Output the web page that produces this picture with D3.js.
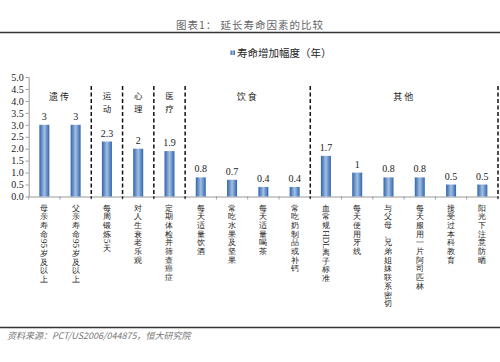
<!DOCTYPE html>
<html>
<head>
<meta charset="utf-8">
<script src="https://cdn.jsdelivr.net/npm/d3@7"></script>
<style>
  body { margin: 0; background: #fff; }
  svg { display: block; font-family: "Noto Sans CJK SC", sans-serif; }
</style>
</head>
<body>
<div id="chart"></div>
<script>
// data
var categories = [
  "母亲寿命95岁及以上", "父亲寿命95岁及以上", "每周锻炼5天", "对人生衰老乐观",
  "定期体检并筛查癌症", "每天适量饮酒", "常吃水果及坚果", "每天适量喝茶",
  "常吃奶制品或补钙", "血常规HDL离子标准", "每天使用牙线", "与父母、兄弟姐妹联系密切",
  "每天服用一片阿司匹林", "接受过本科教育", "阳光下注意防晒"
];
var values = [3, 3, 2.3, 2, 1.9, 0.8, 0.7, 0.4, 0.4, 1.7, 1, 0.8, 0.8, 0.5, 0.5];
var valueLabels = ["3", "3", "2.3", "2", "1.9", "0.8", "0.7", "0.4", "0.4", "1.7", "1", "0.8", "0.8", "0.5", "0.5"];
var groupNames = ["遗传", "运动", "心理", "医疗", "饮食", "其他"];
var groupFirst = [0, 2, 3, 4, 5, 9];
var groupLast = [1, 2, 3, 4, 8, 14];
var yTicks = [0, 0.5, 1, 1.5, 2, 2.5, 3, 3.5, 4, 4.5, 5];
var seriesName = "寿命增加幅度（年）";

var W = 500, H = 362;
var svg = d3.select("#chart").append("svg").attr("width", W).attr("height", H);

// bar gradient (light middle, darker edges)
var grad = svg.append("defs").append("linearGradient").attr("id", "barGrad")
  .attr("x1", "0%").attr("x2", "100%").attr("y1", "0%").attr("y2", "0%");
grad.append("stop").attr("offset", "0%").attr("stop-color", "#2f64ad");
grad.append("stop").attr("offset", "50%").attr("stop-color", "#a4bfe2");
grad.append("stop").attr("offset", "100%").attr("stop-color", "#2f64ad");

// title + rule
svg.append("text").attr("x", 250).attr("y", 29).attr("text-anchor", "middle")
  .attr("font-size", "10.5px").attr("fill", "#666").attr("letter-spacing", "1px")
  .text("图表1：  延长寿命因素的比较");
svg.append("line").attr("x1", 0).attr("x2", W).attr("y1", 32.5).attr("y2", 32.5)
  .attr("stroke", "#333").attr("stroke-width", 1.6);

// legend
svg.append("rect").attr("x", 230.5).attr("y", 50.5).attr("width", 4.5).attr("height", 4.5)
  .attr("fill", "url(#barGrad)");
svg.append("text").attr("x", 237).attr("y", 56.5).attr("font-size", "10.5px")
  .attr("fill", "#222").text(seriesName);

// scales
var x = d3.scaleBand().domain(d3.range(categories.length)).range([28.7, 498]).padding(0);
var y = d3.scaleLinear().domain([0, 5]).range([196.5, 77]);
var barW = 10;

// y axis
var yAxis = svg.append("g").attr("transform", "translate(28.7,0)")
  .call(d3.axisLeft(y).tickValues(yTicks).tickFormat(d3.format(".1f")).tickSize(3).tickSizeOuter(0));
yAxis.select(".domain").attr("stroke", "#999");
yAxis.selectAll(".tick line").attr("stroke", "#999");
yAxis.selectAll("text").attr("font-family", "'Liberation Serif', serif")
  .attr("font-size", "10px").attr("fill", "#222").attr("x", -5);

// x axis; labels are stacked top to bottom, one character at a time
var xAxis = svg.append("g").attr("transform", "translate(0," + y(0) + ")")
  .call(d3.axisBottom(x).tickFormat("").tickSize(0).tickSizeOuter(0));
xAxis.select(".domain").attr("stroke", "#999");
var pitch = 8.7;
xAxis.selectAll(".tick").each(function (i) {
  var g = d3.select(this);
  var tokens = categories[i].match(/[A-Za-z0-9]+|./g);
  var pos = 11;
  tokens.forEach(function (tk) {
    if (/^[A-Za-z0-9]+$/.test(tk)) {
      // latin / digit runs lie on their side
      var len = tk.length * (/[A-Z]/.test(tk) ? 5.6 : 4.6);
      g.append("text")
        .attr("transform", "translate(0," + (pos - pitch / 2 + 1) + ") rotate(90)")
        .attr("dominant-baseline", "central").attr("text-anchor", "start")
        .attr("font-family", "'Liberation Serif', serif")
        .attr("font-size", "9px").attr("fill", "#222").text(tk);
      pos += len + 1.5;
    } else {
      g.append("text").attr("x", 0).attr("y", pos)
        .attr("text-anchor", "middle").attr("dominant-baseline", "central")
        .attr("font-size", "8.3px").attr("fill", "#222").text(tk);
      pos += pitch;
    }
  });
});

// boundary ticks between categories
svg.append("g").selectAll("line")
  .data(d3.range(categories.length + 1))
  .join("line")
  .attr("x1", function (i) { return 28.7 + i * x.step(); })
  .attr("x2", function (i) { return 28.7 + i * x.step(); })
  .attr("y1", y(0)).attr("y2", y(0) + 3)
  .attr("stroke", "#999");

// bars
svg.append("g").selectAll("rect")
  .data(values)
  .join("rect")
  .attr("x", function (d, i) { return x(i) + x.bandwidth() / 2 - barW / 2; })
  .attr("y", function (d) { return y(d); })
  .attr("width", barW)
  .attr("height", function (d) { return y(0) - y(d); })
  .attr("fill", "url(#barGrad)");

// value labels
svg.append("g").selectAll("text")
  .data(values)
  .join("text")
  .attr("x", function (d, i) { return x(i) + x.bandwidth() / 2; })
  .attr("y", function (d) { return y(d) - 5; })
  .attr("text-anchor", "middle")
  .attr("font-family", "'Liberation Serif', serif")
  .attr("font-size", "10px").attr("fill", "#222")
  .text(function (d, i) { return valueLabels[i]; });

// dashed group separators (right edge of every group after the first)
svg.append("g").selectAll("line")
  .data(groupLast.slice(1).concat([groupLast[0]]))
  .join("line")
  .attr("x1", function (i) { return x(i) + x.step(); })
  .attr("x2", function (i) { return x(i) + x.step(); })
  .attr("y1", 86).attr("y2", y(0) + 2)
  .attr("stroke", "#111").attr("stroke-width", 1.5)
  .attr("stroke-dasharray", "4,2.5");

// group names
groupNames.forEach(function (name, g) {
  var cx = (x(groupFirst[g]) + x(groupLast[g]) + x.step()) / 2;
  if (groupFirst[g] === groupLast[g]) {
    // narrow groups are written top to bottom
    name.split("").forEach(function (ch, k) {
      svg.append("text").attr("x", cx).attr("y", 95 + k * 12.5)
        .attr("text-anchor", "middle").attr("dominant-baseline", "central")
        .attr("font-size", "8.5px").attr("fill", "#222").text(ch);
    });
  } else {
    svg.append("text").attr("x", cx).attr("y", 96)
      .attr("text-anchor", "middle").attr("dominant-baseline", "central")
      .attr("font-size", "9px").attr("fill", "#222").attr("letter-spacing", "2px")
      .text(name);
  }
});

// source + bottom rule
svg.append("line").attr("x1", 0).attr("x2", W).attr("y1", 327.5).attr("y2", 327.5)
  .attr("stroke", "#333").attr("stroke-width", 1.6);
svg.append("text").attr("x", 7).attr("y", 339).attr("font-size", "9px")
  .attr("font-style", "italic").attr("fill", "#777")
  .text("资料来源：PCT/US2006/044875，恒大研究院");
</script>
</body>
</html>
